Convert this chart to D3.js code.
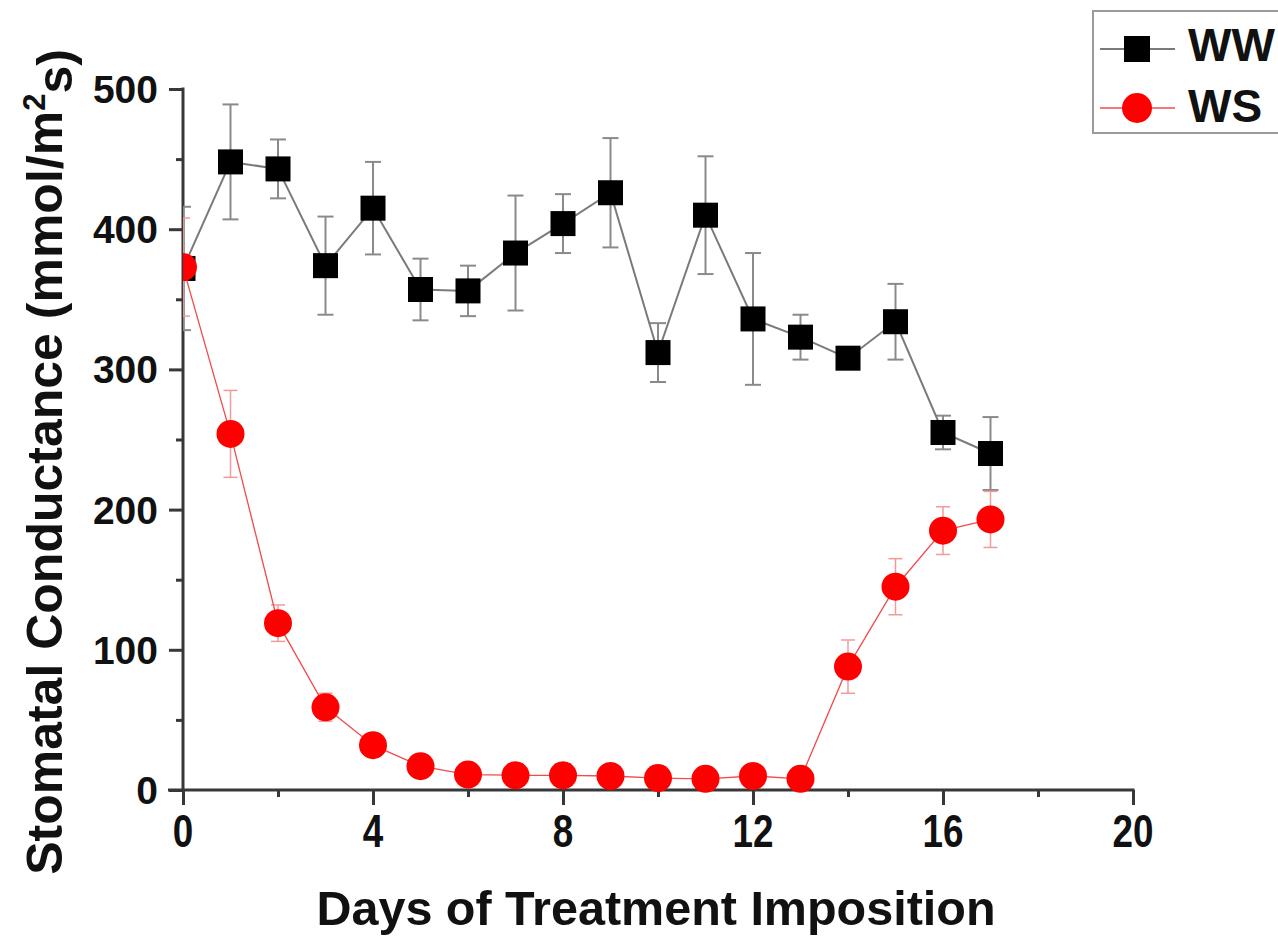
<!DOCTYPE html>
<html>
<head>
<meta charset="utf-8">
<script src="https://cdn.jsdelivr.net/npm/d3@7"></script>
<style>
  body { margin: 0; background: #fff; }
  #chart { width: 1278px; height: 936px; }
  text { font-family: Arial, "Liberation Sans", sans-serif; font-weight: bold; fill: #111; }
</style>
</head>
<body>
<div id="chart"></div>
<script>
// Dados do gráfico //
const days = [0, 1, 2, 3, 4, 5, 6, 7, 8, 9, 10, 11, 12, 13, 14, 15, 16, 17]
const wwValues = [372, 448, 443, 374, 415, 357, 356, 383, 404, 426, 312, 410, 336, 323, 308, 334, 255, 240]
const wwErrors = [44, 41, 21, 35, 33, 22, 18, 41, 21, 39, 21, 42, 47, 16, 6, 27, 12, 26]
const wsValues = [373, 254, 119, 59, 32, 17, 11, 10.5, 10.5, 10, 8.5, 8, 10, 8, 88, 145, 185, 193]
const wsErrors = [35, 31, 13, 10, 5, 3, 2, 2, 2, 2, 2, 2, 2, 2, 19, 20, 17, 20]
const xTicks = [0, 4, 8, 12, 16, 20]
const xMinorTicks = [2, 6, 10, 14, 18]
const yTicks = [0, 100, 200, 300, 400, 500]
const yMinorTicks = [50, 150, 250, 350, 450]
const seriesNames = ["WW", "WS"]

var stomataChart = {
  render: function(node){
    const width = 1278, height = 936
    const x = d3.scaleLinear().domain([0, 20]).range([183, 1133])
    const y = d3.scaleLinear().domain([0, 500]).range([790, 89])

    const svg = d3.select(node).append("svg")
        .attr("width", width)
        .attr("height", height)
        .attr("viewBox", "0 0 " + width + " " + height)

    // Área de recorte do plot //
    svg.append("defs").append("clipPath").attr("id", "plotClip")
      .append("rect").attr("x", 183).attr("y", 0).attr("width", 1000).attr("height", 800)

    const axisColor = "#383838"

    // Eixo X //
    const gx = svg.append("g").attr("transform", "translate(0,790)")
    gx.call(d3.axisBottom(x).tickValues(xTicks).tickSize(15).tickFormat(""))
    gx.append("g").call(d3.axisBottom(x).tickValues(xMinorTicks).tickSize(7).tickFormat(""))
    gx.selectAll("path.domain").remove()
    gx.selectAll("line").attr("stroke", axisColor).attr("stroke-width", 3)
    gx.append("line").attr("x1", 168).attr("x2", x(20) + 1.5)
      .attr("stroke", axisColor).attr("stroke-width", 3)

    // Eixo Y //
    const gy = svg.append("g").attr("transform", "translate(183,0)")
    gy.call(d3.axisLeft(y).tickValues(yTicks).tickSize(14).tickFormat(""))
    gy.append("g").call(d3.axisLeft(y).tickValues(yMinorTicks).tickSize(7).tickFormat(""))
    gy.selectAll("path.domain").remove()
    gy.selectAll("line").attr("stroke", axisColor).attr("stroke-width", 3)
    gy.append("line").attr("y1", y(500) - 1.5).attr("y2", y(0))
      .attr("stroke", axisColor).attr("stroke-width", 3)

    // Rótulos dos ticks //
    svg.append("g").selectAll("text").data(xTicks).enter().append("text")
      .attr("text-anchor", "middle")
      .attr("transform", d => "translate(" + x(d) + ",847) scale(0.97,1.2)")
      .style("font-size", "38px")
      .text(d => d)

    svg.append("g").selectAll("text").data(yTicks).enter().append("text")
      .attr("text-anchor", "end")
      .attr("x", 158)
      .attr("y", d => y(d))
      .attr("dy", "0.36em")
      .style("font-size", "39px")
      .text(d => d)

    // Títulos dos eixos //
    svg.append("text")
      .attr("x", 656).attr("y", 925)
      .attr("text-anchor", "middle")
      .style("font-size", "48.5px")
      .text("Days of Treatment Imposition")

    const yTitle = svg.append("text")
      .attr("transform", "translate(62,462) rotate(-90)")
      .attr("text-anchor", "middle")
      .style("font-size", "50px")
    yTitle.append("tspan").text("Stomatal Conductance (mmol/m")
    yTitle.append("tspan").attr("dy", "-0.55em").style("font-size", "31px").text("2")
    yTitle.append("tspan").attr("dy", "0.55em").text("s)")

    // Séries //
    const plot = svg.append("g").attr("clip-path", "url(#plotClip)")
    const series = [
      { name: seriesNames[0], values: wwValues, errors: wwErrors, line: "#7a7a7a", lineWidth: 2, err: "#8a8a8a", errWidth: 2, cap: 8 },
      { name: seriesNames[1], values: wsValues, errors: wsErrors, line: "#f24b4b", lineWidth: 1.3, err: "#f29a9a", errWidth: 1.5, cap: 7 }
    ]

    series.forEach(s => {
      const pts = days.map((d, i) => ({ d: d, v: s.values[i], e: s.errors[i] }))
      const g = plot.append("g").attr("class", "serie-" + s.name)

      // Barras de erro //
      const eb = g.append("g").selectAll("g").data(pts).enter().append("g")
        .attr("stroke", s.err).attr("stroke-width", s.errWidth)
      eb.append("line")
        .attr("x1", p => x(p.d)).attr("x2", p => x(p.d))
        .attr("y1", p => y(p.v + p.e)).attr("y2", p => y(p.v - p.e))
      eb.append("line")
        .attr("x1", p => x(p.d) - s.cap).attr("x2", p => x(p.d) + s.cap)
        .attr("y1", p => y(p.v + p.e)).attr("y2", p => y(p.v + p.e))
      eb.append("line")
        .attr("x1", p => x(p.d) - s.cap).attr("x2", p => x(p.d) + s.cap)
        .attr("y1", p => y(p.v - p.e)).attr("y2", p => y(p.v - p.e))

      // Linha //
      const line = d3.line().x(p => x(p.d)).y(p => y(p.v))
      g.append("path").datum(pts)
        .attr("d", line)
        .attr("fill", "none")
        .attr("stroke", s.line)
        .attr("stroke-width", s.lineWidth)

      // Marcadores //
      if (s.name === "WW") {
        g.append("g").selectAll("rect").data(pts).enter().append("rect")
          .attr("x", p => x(p.d) - 12.5).attr("y", p => y(p.v) - 12.5)
          .attr("width", 25).attr("height", 25)
          .attr("fill", "#000")
      } else {
        g.append("g").selectAll("circle").data(pts).enter().append("circle")
          .attr("cx", p => x(p.d)).attr("cy", p => y(p.v))
          .attr("r", 14)
          .attr("fill", "#ff0000")
      }
    })

    // Legenda //
    const legend = svg.append("g")
    legend.append("rect")
      .attr("x", 1093).attr("y", 11).attr("width", 220).attr("height", 122)
      .attr("fill", "#fff").attr("stroke", "#9a9a9a").attr("stroke-width", 2)

    legend.append("line").attr("x1", 1100).attr("x2", 1175).attr("y1", 49).attr("y2", 49)
      .attr("stroke", "#7a7a7a").attr("stroke-width", 2)
    legend.append("rect").attr("x", 1137 - 13).attr("y", 49 - 13).attr("width", 26).attr("height", 26)
      .attr("fill", "#000")
    legend.append("text").attr("x", 1188).attr("y", 61).style("font-size", "46px").text(seriesNames[0])

    legend.append("line").attr("x1", 1100).attr("x2", 1175).attr("y1", 108).attr("y2", 108)
      .attr("stroke", "#f24b4b").attr("stroke-width", 1.3)
    legend.append("circle").attr("cx", 1137).attr("cy", 108).attr("r", 15).attr("fill", "#ff0000")
    legend.append("text").attr("x", 1188).attr("y", 122).style("font-size", "46px").text(seriesNames[1])
  }
}

// Chama o Gráfico //
stomataChart.render("#chart")
</script>
</body>
</html>
